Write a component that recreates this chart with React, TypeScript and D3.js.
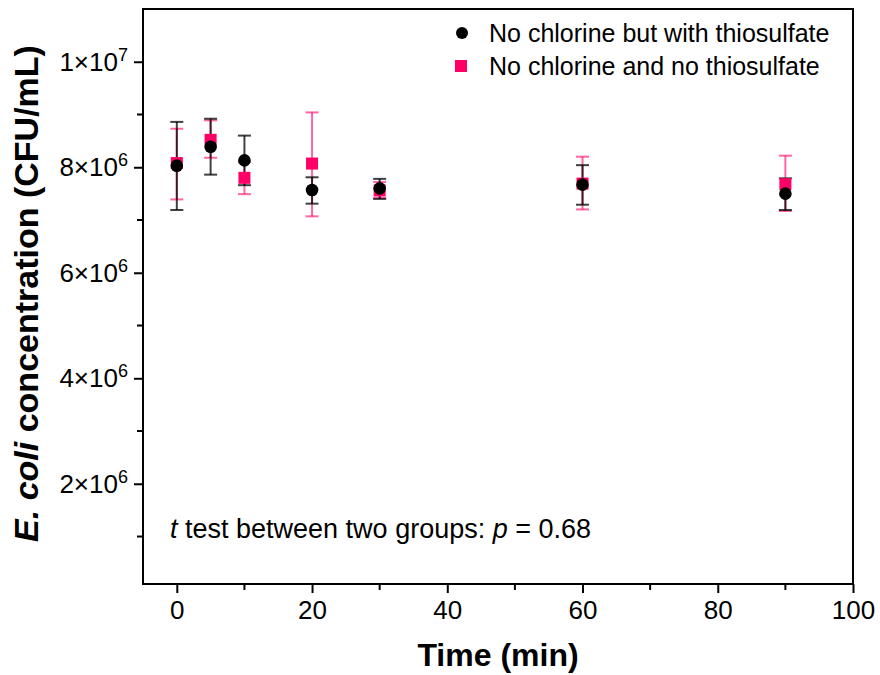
import { useEffect, useRef } from "react";
import * as d3 from "d3";

// sampling times (min)
const times = [0, 5, 10, 20, 30, 60, 90];

// values in 10^6 CFU/mL
const thioMean = [8.03, 8.39, 8.13, 7.57, 7.6, 7.67, 7.5];
const thioUpper = [8.86, 8.92, 8.6, 7.81, 7.78, 8.04, 7.79];
const thioLower = [7.19, 7.86, 7.66, 7.31, 7.4, 7.29, 7.19];

const noThioMean = [8.08, 8.52, 7.8, 8.07, 7.56, 7.69, 7.68];
const noThioUpper = [8.73, 8.89, 8.1, 9.04, 7.72, 8.2, 8.22];
const noThioLower = [7.39, 8.18, 7.49, 7.07, 7.42, 7.2, 7.17];

const xTicks = [0, 20, 40, 60, 80, 100];
const xMinor = [10, 30, 50, 70, 90];
const yTicks = [2, 4, 6, 8, 10];
const yMinor = [1, 3, 5, 7, 9];
const yLabels = [
  ["2×10", "6"],
  ["4×10", "6"],
  ["6×10", "6"],
  ["8×10", "6"],
  ["1×10", "7"],
];

const legendNames = ["No chlorine but with thiosulfate", "No chlorine and no thiosulfate"];

const PINK = "#ff0066";
const FONT = "'Liberation Sans', Arial, sans-serif";

const App = () => {
  const svgRef = useRef(null);

  useEffect(() => {
    const width = 880;
    const height = 675;
    const left = 143, right = 853, top = 9, bottom = 584;

    const x = d3.scaleLinear().domain([-5, 100]).range([left, right]);
    const y = d3.scaleLinear().domain([0.1, 11]).range([bottom, top]);

    const svg = d3
      .select(svgRef.current)
      .attr("width", width)
      .attr("height", height)
      .style("font-family", FONT);

    svg.append("rect").attr("width", width).attr("height", height).attr("fill", "#fff");

    // frame
    svg
      .append("rect")
      .attr("x", left)
      .attr("y", top)
      .attr("width", right - left)
      .attr("height", bottom - top)
      .attr("fill", "none")
      .attr("stroke", "#000")
      .attr("stroke-width", 2);

    // x axis
    const gx = svg.append("g").attr("transform", `translate(0,${bottom})`);
    gx.call(d3.axisBottom(x).tickValues(xTicks).tickSize(9).tickPadding(8).tickSizeOuter(0));
    gx.selectAll(".tick line").attr("stroke-width", 2);
    gx.selectAll(".tick text").attr("font-size", 26).attr("font-family", FONT).attr("fill", "#000");
    gx.select(".domain").remove();
    gx.selectAll(".minor")
      .data(xMinor)
      .join("line")
      .attr("x1", (d) => x(d))
      .attr("x2", (d) => x(d))
      .attr("y1", 0)
      .attr("y2", 6)
      .attr("stroke", "#000")
      .attr("stroke-width", 2);

    // y axis
    const gy = svg.append("g").attr("transform", `translate(${left},0)`);
    gy.call(d3.axisLeft(y).tickValues(yTicks).tickSize(9).tickPadding(6).tickSizeOuter(0));
    gy.select(".domain").remove();
    gy.selectAll(".tick line").attr("stroke-width", 2);
    gy.selectAll(".tick text")
      .attr("font-size", 26)
      .attr("font-family", FONT)
      .attr("fill", "#000")
      .text("")
      .each(function (d, i) {
        const t = d3.select(this);
        t.append("tspan").text(yLabels[i][0]);
        t.append("tspan").attr("dy", -10).attr("font-size", 18).text(yLabels[i][1]);
      });
    gy.selectAll(".minor")
      .data(yMinor)
      .join("line")
      .attr("y1", (d) => y(d))
      .attr("y2", (d) => y(d))
      .attr("x1", 0)
      .attr("x2", -6)
      .attr("stroke", "#000")
      .attr("stroke-width", 2);

    // axis titles
    svg
      .append("text")
      .attr("x", (left + right) / 2 + 0)
      .attr("y", 666)
      .attr("text-anchor", "middle")
      .attr("font-size", 32)
      .attr("font-weight", "bold")
      .text("Time (min)");

    const yt = svg
      .append("text")
      .attr("transform", `translate(38,${(top + bottom) / 2 - 3}) rotate(-90)`)
      .attr("text-anchor", "middle")
      .attr("font-size", 34)
      .attr("font-weight", "bold");
    yt.append("tspan").attr("font-style", "italic").text("E. coli");
    yt.append("tspan").text(" concentration (CFU/mL)");

    // error bars
    const cap = 6.5;
    const errBars = (cls, lo, hi, color, op) => {
      const g = svg.append("g").attr("stroke", color).attr("stroke-opacity", op).attr("stroke-width", 2);
      const rows = times.map((t, i) => ({ t, lo: lo[i], hi: hi[i] }));
      g.selectAll(`.${cls}v`).data(rows).join("line")
        .attr("x1", (d) => x(d.t)).attr("x2", (d) => x(d.t))
        .attr("y1", (d) => y(d.lo)).attr("y2", (d) => y(d.hi));
      g.selectAll(`.${cls}h`).data(rows).join("line")
        .attr("x1", (d) => x(d.t) - cap).attr("x2", (d) => x(d.t) + cap)
        .attr("y1", (d) => y(d.hi)).attr("y2", (d) => y(d.hi));
      g.selectAll(`.${cls}l`).data(rows).join("line")
        .attr("x1", (d) => x(d.t) - cap).attr("x2", (d) => x(d.t) + cap)
        .attr("y1", (d) => y(d.lo)).attr("y2", (d) => y(d.lo));
    };
    errBars("p", noThioLower, noThioUpper, PINK, 0.6);
    errBars("b", thioLower, thioUpper, "#000", 0.75);

    // markers
    svg.append("g").selectAll("rect").data(times).join("rect")
      .attr("x", (d) => x(d) - 6)
      .attr("y", (d, i) => y(noThioMean[i]) - 6)
      .attr("width", 12).attr("height", 12)
      .attr("fill", PINK);
    svg.append("g").selectAll("circle").data(times).join("circle")
      .attr("cx", (d) => x(d))
      .attr("cy", (d, i) => y(thioMean[i]))
      .attr("r", 6.3)
      .attr("fill", "#000");

    // legend
    const lg = svg.append("g");
    lg.append("circle").attr("cx", 462).attr("cy", 33).attr("r", 6).attr("fill", "#000");
    lg.append("rect").attr("x", 455).attr("y", 60).attr("width", 12).attr("height", 12).attr("fill", PINK);
    lg.selectAll("text").data(legendNames).join("text")
      .attr("x", 489)
      .attr("y", (d, i) => 42 + i * 33)
      .attr("font-size", 25)
      .text((d) => d);

    // annotation
    const an = svg.append("text").attr("x", 170).attr("y", 538).attr("font-size", 27);
    an.append("tspan").attr("font-style", "italic").text("t");
    an.append("tspan").text(" test between two groups: ");
    an.append("tspan").attr("font-style", "italic").text("p");
    an.append("tspan").text(" = 0.68");

    return () => {
      svg.selectAll("*").remove();
    };
  }, []);

  return (
    <div style={{ position: "absolute", left: 0, top: 0 }}>
      <svg ref={svgRef} style={{ display: "block" }}></svg>
    </div>
  );
};

export default App;
